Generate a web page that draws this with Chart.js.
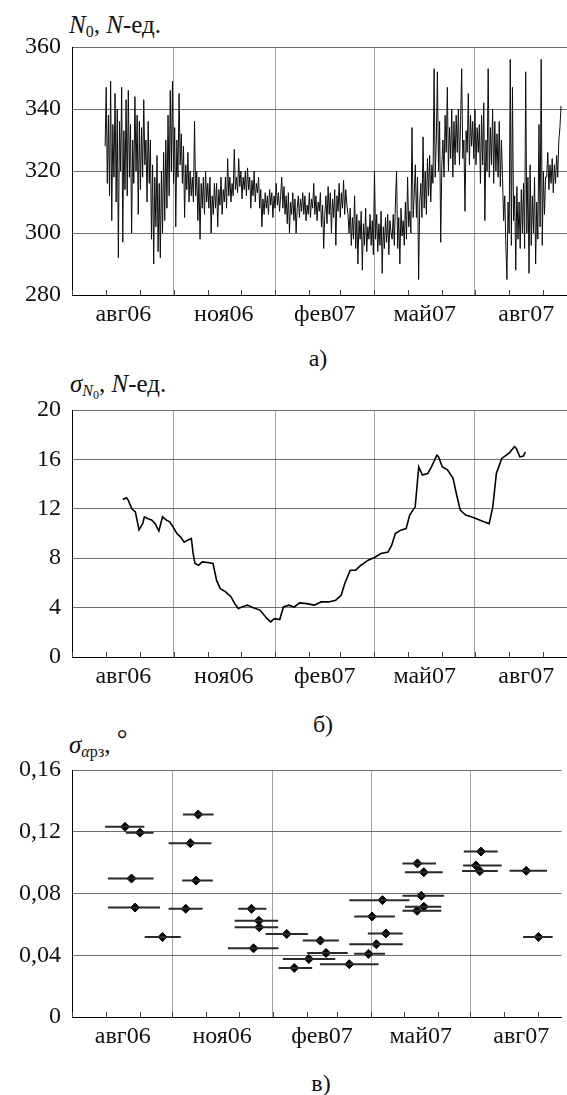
<!DOCTYPE html>
<html>
<head>
<meta charset="utf-8">
<script src="https://cdn.jsdelivr.net/npm/chart.js@4.4.1/dist/chart.umd.min.js"></script>
<style>
  body { margin: 0; width: 567px; height: 1095px; background: #fff; position: relative; overflow: hidden;
         font-family: "Liberation Serif", Tinos, "Times New Roman", "DejaVu Serif", "Noto Serif", serif; color: #111; }
  canvas { position: absolute; left: 0; }
  .t { position: absolute; font-size: 25px; line-height: 25px; white-space: nowrap; }
  .p { position: absolute; font-size: 24px; line-height: 24px; width: 60px; text-align: center; }
  sub { font-size: 16px; vertical-align: -4px; line-height: 0; }
  sub sub { font-size: 12px; vertical-align: -3px; }
</style>
</head>
<body>
<div class="t" style="left:69px;top:12px"><i>N</i><sub>0</sub>, <i>N</i>-ед.</div>
<canvas id="chartA" width="567" height="340" style="top:0"></canvas>
<div class="p" style="left:288px;top:346px">а)</div>

<div class="t" style="left:70px;top:371px"><i>σ</i><sub><i>N</i><sub>0</sub></sub>, <i>N</i>-ед.</div>
<canvas id="chartB" width="567" height="330" style="top:360px"></canvas>
<div class="p" style="left:293px;top:712px">б)</div>

<div class="t" style="left:69px;top:732px"><i>σ</i><sub><i>α</i>рз</sub>, <span style="font-size:27px;position:relative;top:-5px">°</span></div>
<canvas id="chartC" width="567" height="340" style="top:720px"></canvas>
<div class="p" style="left:291px;top:1071px">в)</div>

<script>
// x axis: days since 1 Jul 2006
const dayMax = 448.4;
const monthStartDays = [0, 31, 62, 92, 123, 153, 184, 215, 243, 274, 304, 335, 365, 396, 427];
const quarterDays = [92, 184, 274, 365];
const tickLabels = ['авг06', 'ноя06', 'фев07', 'май07', 'авг07'];
const tickLabelDays = [46.5, 137.5, 229, 319.5, 411.5];

// а) N0, daily from 31 Jul 2006
const n0StartDay = 30;
const n0StepDays = 1;
const n0Values = [
  328, 347, 316, 338, 312, 349, 304, 335, 318, 345, 310, 340, 292, 336, 320, 347, 297, 333, 314, 343,
  312, 346, 318, 335, 300, 330, 316, 344, 320, 338, 306, 336, 314, 334, 318, 343, 322, 330, 310, 336,
  316, 330, 298, 322, 290, 318, 302, 325, 294, 316, 292, 320, 300, 326, 304, 330, 308, 338, 312, 346,
  320, 349, 316, 334, 302, 330, 318, 345, 322, 332, 316, 328, 305, 322, 314, 326, 310, 320, 312, 318,
  310, 336, 312, 320, 304, 318, 298, 316, 308, 318, 306, 320, 310, 316, 308, 318, 300, 312, 306, 316,
  308, 316, 302, 314, 309, 318, 306, 314, 310, 318, 308, 324, 312, 318, 310, 316, 312, 327, 314, 318,
  313, 324, 315, 320, 311, 318, 314, 320, 312, 321, 314, 318, 308, 317, 312, 320, 310, 316, 313, 318,
  308, 314, 302, 311, 306, 313, 308, 312, 306, 314, 309, 313, 305, 312, 308, 316, 309, 313, 307, 312,
  318, 308, 315, 306, 312, 303, 313, 300, 310, 306, 313, 304, 311, 300, 308, 312, 305, 311, 307, 313,
  306, 312, 304, 309, 306, 313, 305, 311, 308, 316, 306, 312, 304, 310, 307, 313, 302, 309, 295, 306,
  312, 303, 315, 306, 313, 300, 311, 305, 314, 296, 312, 307, 316, 305, 313, 308, 317, 306, 314, 309,
  306, 300, 308, 296, 305, 298, 312, 295, 306, 290, 304, 298, 307, 288, 303, 296, 308, 294, 302, 298,
  306, 296, 304, 293, 320, 298, 306, 294, 303, 296, 307, 287, 302, 295, 305, 297, 306, 293, 304, 300,
  298, 306, 296, 310, 320, 295, 305, 290, 308, 299, 304, 296, 310, 298, 318, 302, 307, 300, 334, 305,
  312, 322, 305, 318, 285, 310, 316, 305, 331, 308, 320, 306, 324, 312, 325, 310, 322, 316, 353, 318,
  330, 352, 320, 336, 297, 322, 330, 318, 338, 326, 347, 320, 334, 324, 340, 318, 336, 322, 338, 326,
  340, 322, 336, 353, 324, 330, 307, 333, 326, 345, 322, 338, 328, 336, 324, 340, 322, 334, 326, 335,
  316, 338, 322, 342, 304, 330, 320, 353, 318, 334, 322, 340, 316, 336, 320, 332, 318, 336, 315, 330,
  318, 304, 312, 296, 285, 310, 300, 356, 296, 347, 304, 312, 288, 315, 298, 310, 295, 314, 300, 316,
  295, 352, 300, 318, 287, 322, 296, 312, 300, 318, 290, 310, 298, 335, 302, 356, 296, 320, 306, 318,
  318, 326, 314, 322, 316, 324, 313, 322, 316, 325, 318, 330, 334, 341
];

// б) sigma N0
const sigmaDays = [46, 49.3, 50.9, 54.2, 57.4, 60.7, 64, 65.6, 68.9, 72.1, 75.4, 78.7, 82, 85.2, 88.5, 91.8, 95, 98.3,
  101.6, 104.8, 108.1, 109.7, 111.4, 114.7, 117.9, 122.8, 127.7, 131, 134.3, 139.2, 144.1, 147.4, 150.6, 153.9,
  158.8, 163.7, 170.2, 176.8, 180, 183.3, 188.2, 191.5, 196.4, 201.3, 206.2, 212.8, 219.3, 225.8, 232.4, 238.9,
  243.8, 247.1, 252, 256.9, 261.8, 268.3, 274.9, 279.8, 286.3, 289.6, 292.9, 297.8, 302.7, 305.9, 310.9, 314.1,
  317.4, 322.3, 325.6, 330.5, 332.1, 335.4, 340.3, 345.2, 348.5, 351.7, 356.6, 361.5, 366.4, 373, 377.9, 381.2,
  384.4, 389.3, 395.9, 400.8, 402.4, 405.7, 409, 410.6];
const sigmaValues = [12.76, 12.9, 12.7, 12.0, 11.75, 10.3, 10.8, 11.35, 11.2, 11.1, 10.8, 10.2, 11.35, 11.1, 10.95, 10.5, 10.0, 9.73,
  9.3, 9.46, 9.6, 8.4, 7.57, 7.43, 7.7, 7.65, 7.57, 6.2, 5.54, 5.27, 4.86, 4.32, 3.92, 4.05,
  4.2, 4.0, 3.8, 3.1, 2.84, 3.1, 3.03, 4.05, 4.2, 4.05, 4.38, 4.32, 4.2, 4.46, 4.46, 4.6,
  5.0, 5.95, 7.03, 7.03, 7.43, 7.84, 8.1, 8.38, 8.5, 9.05, 10.0, 10.27, 10.4, 11.5, 12.16, 15.4,
  14.73, 14.86, 15.4, 16.35, 16.2, 15.4, 15.14, 14.46, 13.1, 11.9, 11.5, 11.35, 11.2, 10.95, 10.8, 12.16,
  14.86, 16.08, 16.5, 17.03, 16.9, 16.2, 16.27, 16.6];

// в) sigma apz with interval bars
const aprzDays = [48.6, 62.3, 54.5, 57.8, 82.9, 115.6, 108.4, 113.7, 104.2, 164.4, 171.2, 171.5, 166.3, 196.7, 227.5, 232.7, 217,
  203.6, 254, 271.6, 278.8, 287.6, 274.9, 284.4, 316.4, 322.3, 320, 322.3, 316.1, 374.6, 370, 373.6, 416.1, 427.3];
const aprzValues = [0.1232, 0.1194, 0.0897, 0.0709, 0.0519, 0.1312, 0.1126, 0.0884, 0.0701, 0.0701, 0.0623, 0.0582, 0.0445, 0.0538,
  0.0495, 0.0415, 0.0376, 0.0318, 0.0342, 0.0409, 0.0471, 0.0541, 0.0651, 0.0757, 0.0995, 0.0938, 0.0785, 0.0714, 0.0688,
  0.1072, 0.0982, 0.0945, 0.0947, 0.0519];
const aprzFrom = [30.3, 49.3, 32.9, 32.9, 66.6, 101.6, 88.5, 100.9, 88.5, 152.3, 149, 149, 142.8, 177.4, 211.4, 215.4, 193.1,
  189.2, 227.1, 258.5, 254, 271, 258.5, 254, 302.7, 305, 302.7, 305, 302.7, 358.9, 358.3, 357.3, 400.8, 413.2];
const aprzTo = [66.3, 74.8, 74.8, 80.6, 99.6, 129.7, 127.7, 129, 119.6, 178.1, 188.9, 188.9, 189.2, 216, 244.5, 252.6, 241.2,
  220, 280.8, 286.7, 303, 303, 295.8, 309.2, 333.4, 339.6, 340.9, 338.3, 338.3, 390, 393.6, 390, 435.1, 440.3];

const serif = { family: '"Liberation Serif", Tinos, "Times New Roman", "DejaVu Serif", "Noto Serif", serif', size: 24 };

const innerTicks = {
  id: 'innerTicks',
  afterDraw(chart) {
    const ctx = chart.ctx;
    const xs = chart.scales.x;
    const bottom = chart.chartArea.bottom;
    ctx.save();
    ctx.strokeStyle = '#444';
    ctx.lineWidth = 1;
    monthStartDays.forEach(d => {
      const px = Math.round(xs.getPixelForValue(d)) + 0.5;
      ctx.beginPath();
      ctx.moveTo(px, bottom);
      ctx.lineTo(px, bottom - 5);
      ctx.stroke();
    });
    ctx.restore();
  }
};

function xAxis(height) {
  return {
    type: 'linear',
    min: 0,
    max: dayMax,
    afterBuildTicks: s => {
      s.ticks = monthStartDays.concat(tickLabelDays).sort((a, b) => a - b).map(v => ({ value: v }));
    },
    afterFit: s => { s.height = height; },
    grid: {
      color: c => (c.tick && quarterDays.includes(c.tick.value)) ? '#a3a3a3' : 'rgba(0,0,0,0)',
      drawTicks: false
    },
    border: { color: '#000', width: 1 },
    ticks: {
      autoSkip: false,
      maxRotation: 0,
      padding: 5,
      color: '#111',
      font: serif,
      callback: v => {
        const i = tickLabelDays.indexOf(v);
        return i < 0 ? '' : tickLabels[i];
      }
    }
  };
}

function yAxis(min, max, step, fmt) {
  return {
    min, max,
    afterFit: s => { s.width = 72; },
    grid: { color: '#6e6e6e', drawTicks: false },
    border: { color: '#000', width: 1 },
    ticks: { stepSize: step, padding: 11, color: '#111', font: serif, callback: fmt }
  };
}

// а)
new Chart(document.getElementById('chartA').getContext('2d'), {
  type: 'line',
  data: {
    datasets: [{
      data: n0Values.map((v, i) => ({ x: n0StartDay + i * n0StepDays, y: v })),
      borderColor: '#0d0d0d',
      borderWidth: 1,
      pointRadius: 0,
      tension: 0
    }]
  },
  options: {
    responsive: false,
    animation: false,
    layout: { padding: { top: 47, right: 0, left: 0, bottom: 0 } },
    plugins: { legend: { display: false }, tooltip: { enabled: false } },
    scales: {
      x: xAxis(45),
      y: yAxis(280, 360, 20, v => String(v))
    }
  },
  plugins: [innerTicks]
});

// б)
new Chart(document.getElementById('chartB').getContext('2d'), {
  type: 'line',
  data: {
    datasets: [{
      data: sigmaDays.map((d, i) => ({ x: d, y: sigmaValues[i] })),
      borderColor: '#000',
      borderWidth: 1.6,
      pointRadius: 0,
      tension: 0
    }]
  },
  options: {
    responsive: false,
    animation: false,
    layout: { padding: { top: 50, right: 0, left: 0, bottom: 0 } },
    plugins: { legend: { display: false }, tooltip: { enabled: false } },
    scales: {
      x: xAxis(33),
      y: yAxis(0, 20, 4, v => String(v))
    }
  },
  plugins: [innerTicks]
});

// в)
const barPoints = [];
aprzDays.forEach((d, i) => {
  barPoints.push({ x: aprzFrom[i], y: aprzValues[i] }, { x: aprzTo[i], y: aprzValues[i] }, { x: aprzTo[i], y: null });
});

new Chart(document.getElementById('chartC').getContext('2d'), {
  type: 'line',
  data: {
    datasets: [{
      data: barPoints,
      borderColor: '#2a2a2a',
      borderWidth: 2,
      pointRadius: 0,
      spanGaps: false
    }, {
      data: aprzDays.map((d, i) => ({ x: d, y: aprzValues[i] })),
      showLine: false,
      pointStyle: 'rectRot',
      pointRadius: 4.5,
      pointBackgroundColor: '#000',
      pointBorderColor: '#000'
    }]
  },
  options: {
    responsive: false,
    animation: false,
    layout: { padding: { top: 50, right: 0, left: 0, bottom: 0 } },
    plugins: { legend: { display: false }, tooltip: { enabled: false } },
    scales: {
      x: xAxis(43),
      y: yAxis(0, 0.16, 0.04, v => v === 0 ? '0' : v.toFixed(2).replace('.', ','))
    }
  },
  plugins: [innerTicks]
});
</script>
</body>
</html>
